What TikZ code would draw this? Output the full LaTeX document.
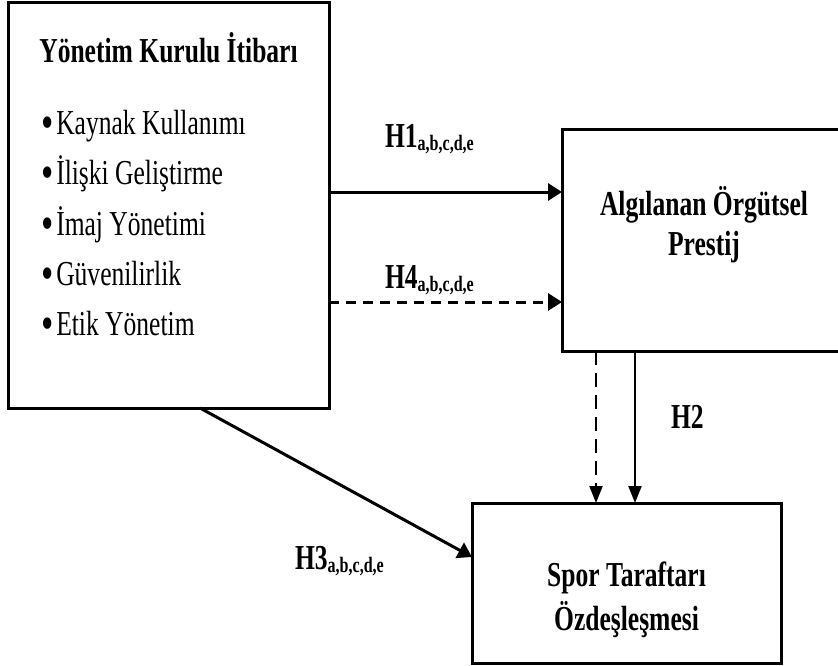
\documentclass[tikz,border=0pt]{standalone}
\usepackage{fontspec}
\setmainfont{Liberation Serif}[FakeStretch=0.73]
\usetikzlibrary{arrows.meta,calc}

\newcommand{\mainsize}{\fontsize{35}{40}\selectfont}
\newcommand{\subsize}{\fontsize{22}{22}\selectfont}
\newcommand{\hyp}[2]{#1\raisebox{-3pt}{\subsize #2}}
\newcommand{\bul}{\raisebox{-4pt}{\fontsize{48}{48}\selectfont •}\hspace{3pt}}

\begin{document}
\begin{tikzpicture}[x=1pt, y=-1pt,
  every node/.style={inner sep=0pt, outer sep=0pt},
  box/.style={draw, line width=3pt, rectangle},
  btxt/.style={font=\mainsize\bfseries},
  lbl/.style={font=\mainsize\bfseries, anchor=base west},
  item/.style={font=\mainsize, anchor=base west},
  arr/.style={-{Triangle[length=14pt, width=17pt]}, line width=3pt},
  varr/.style={-{Triangle[length=17pt, width=13pt]}, line width=2.2pt},
  hdash/.style={dash pattern=on 10pt off 7pt},
  vdash/.style={dash pattern=on 14pt off 8pt}]

\useasboundingbox (0,0) rectangle (838,666);

% boxes
\node[box, minimum width=321pt, minimum height=405pt] (b1) at (168.5,205.5) {};
\node[box, minimum width=284pt, minimum height=221pt] (b2) at (704,240.5) {};
\node[box, minimum width=309pt, minimum height=160pt] (b3) at (626.5,583) {};

% texts of the first box
\node[btxt, anchor=base] (t1) at (168.5,63) {Yönetim Kurulu İtibarı};
\node[item] (i1) at (41,135) {\bul Kaynak Kullanımı};
\node[item] (i2) at (41,185) {\bul İlişki Geliştirme};
\node[item] (i3) at (41,235) {\bul İmaj Yönetimi};
\node[item] (i4) at (41,285) {\bul Güvenilirlik};
\node[item] (i5) at (41,335) {\bul Etik Yönetim};

% texts of the other boxes
\node[btxt, anchor=base] (t2a) at (704,215) {Algılanan Örgütsel};
\node[btxt, anchor=base] (t2b) at (704,255) {Prestij};
\node[btxt, anchor=base] (t3a) at (626.5,586) {Spor Taraftarı};
\node[btxt, anchor=base] (t3b) at (626.5,630) {Özdeşleşmesi};

% hypothesis labels
\node[lbl] (h1) at (385,148) {\hyp{H1}{a,b,c,d,e}};
\node[lbl] (h4) at (385,288) {\hyp{H4}{a,b,c,d,e}};
\node[lbl] (h2) at (671,428) {H2};
\node[lbl] (h3) at (295,569) {\hyp{H3}{a,b,c,d,e}};

% connector positions
\coordinate (y1) at (0,192);
\coordinate (y4) at (0,302);
\coordinate (xd) at (596,0);
\coordinate (xs) at (635,0);
\coordinate (x3) at (200,0);
\coordinate (y3) at (0,557);

% connectors
\draw[arr] (b1.east |- y1) -- (b2.west |- y1);
\draw[arr, hdash] (b1.east |- y4) -- (b2.west |- y4);
\draw[varr, vdash] (b2.south -| xd) -- (b3.north -| xd);
\draw[varr] (b2.south -| xs) -- (b3.north -| xs);
\draw[arr] (b1.south -| x3) -- (b3.west |- y3);
\end{tikzpicture}
\end{document}
